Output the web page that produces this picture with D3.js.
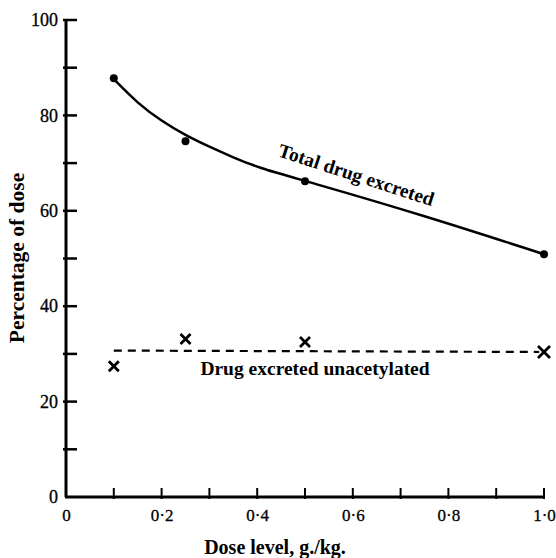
<!DOCTYPE html>
<html><head><meta charset="utf-8">
<script src="https://cdn.jsdelivr.net/npm/d3@7"></script>
<style>body{margin:0;background:#fff}svg{display:block}svg text{font-family:"Liberation Serif","DejaVu Serif",serif}</style>
</head><body>
<svg id="c" width="556" height="558"></svg>
<script>
// Data
const doses = [0.1, 0.25, 0.5, 1.0];
const totalExcreted = [87.8, 74.6, 66.2, 50.9];
const unacetylated = [27.4, 33.1, 32.5, 30.4];
// hand-drawn smooth curve through the total points
const totalCurveX = [0.1, 0.15, 0.2, 0.25, 0.3, 0.35, 0.4, 0.5, 0.75, 1.0];
const totalCurveY = [87.6, 82.5, 78.8, 75.8, 73.4, 71.2, 69.1, 66.3, 59.0, 50.9];
// dashed line (roughly constant level)
const dashX = [0.1, 0.99];
const dashY = [30.7, 30.4];
const yTicks = [0, 20, 40, 60, 80, 100];
const yMinor = [10, 30, 50, 70, 90];
const xTicks = [0, 0.2, 0.4, 0.6, 0.8, 1.0];
const xTickLabels = ["0", "0·2", "0·4", "0·6", "0·8", "1·0"];
const xMinor = [0.1, 0.3, 0.5, 0.7, 0.9];

const svg = d3.select("#c");
const x = d3.scaleLinear().domain([0, 1]).range([66, 544]);
const y = d3.scaleLinear().domain([0, 100]).range([497, 20]);
const font = "Liberation Serif, DejaVu Serif, serif";

// axes
const yAxis = d3.axisLeft(y).tickValues(yTicks).tickSize(0).tickPadding(8).tickFormat(d3.format("d"));
const gy = svg.append("g").attr("transform", "translate(66,0)").call(yAxis)
  .attr("font-family", font).attr("font-size", 18);
gy.select(".domain").remove();
gy.selectAll("text").attr("fill", "#000").style("font-family", font).attr("stroke", "#000").attr("stroke-width", 0.3);

const xAxis = d3.axisBottom(x).tickValues(xTicks).tickSize(0).tickPadding(12).tickFormat((d, i) => xTickLabels[i]);
const gx = svg.append("g").attr("transform", "translate(0,497)").call(xAxis)
  .attr("font-family", font).attr("font-size", 17);
gx.select(".domain").remove();
gx.selectAll("text").attr("fill", "#000").style("font-family", font).attr("stroke", "#000").attr("stroke-width", 0.3);

// axis lines
svg.append("line").attr("x1", 66).attr("x2", 66).attr("y1", y(100)).attr("y2", y(0))
  .attr("stroke", "#000").attr("stroke-width", 3);
svg.append("line").attr("x1", 65).attr("x2", x(1)).attr("y1", y(0)).attr("y2", y(0))
  .attr("stroke", "#000").attr("stroke-width", 3);

// y ticks (inward)
svg.append("g").selectAll("line").data(yTicks.concat(yMinor).filter(d => d > 0)).join("line")
  .attr("x1", 63).attr("x2", 77).attr("y1", d => y(d)).attr("y2", d => y(d))
  .attr("stroke", "#000").attr("stroke-width", 2.5);
// x ticks (upward)
svg.append("g").selectAll("line").data(xTicks.concat(xMinor).filter(d => d > 0)).join("line")
  .attr("x1", d => x(d)).attr("x2", d => x(d)).attr("y1", y(0) + 2).attr("y2", y(0) - 9)
  .attr("stroke", "#000").attr("stroke-width", 2);

// total curve
const curvePts = totalCurveX.map((d, i) => [d, totalCurveY[i]]);
svg.append("path").datum(curvePts)
  .attr("d", d3.line().x(d => x(d[0])).y(d => y(d[1])).curve(d3.curveBasis))
  .attr("fill", "none").attr("stroke", "#000").attr("stroke-width", 2.5);
svg.append("g").selectAll("circle").data(doses.map((d, i) => [d, totalExcreted[i]])).join("circle")
  .attr("cx", d => x(d[0])).attr("cy", d => y(d[1])).attr("r", 4).attr("fill", "#000");

// dashed line
svg.append("path").datum(dashX.map((d, i) => [d, dashY[i]]))
  .attr("d", d3.line().x(d => x(d[0])).y(d => y(d[1])))
  .attr("fill", "none").attr("stroke", "#000").attr("stroke-width", 2.2)
  .attr("stroke-dasharray", "8,6");

// crosses
const cs = [5, 5, 5, 6];
const crosses = svg.append("g").selectAll("g").data(doses.map((d, i) => [d, unacetylated[i], cs[i]])).join("g")
  .attr("transform", d => `translate(${x(d[0])},${y(d[1])})`);
crosses.append("path").attr("d", d => `M${-d[2]},${-d[2]}L${d[2]},${d[2]}M${-d[2]},${d[2]}L${d[2]},${-d[2]}`)
  .attr("stroke", "#000").attr("stroke-width", 2.8).attr("fill", "none");

// labels
svg.append("text").attr("transform", "translate(277,156) rotate(18)")
  .attr("font-family", font).attr("font-weight", "bold").attr("font-size", 19.5)
  .text("Total drug excreted");
svg.append("text").attr("x", 315).attr("y", 375).attr("text-anchor", "middle")
  .attr("font-family", font).attr("font-weight", "bold").attr("font-size", 19.5)
  .text("Drug excreted unacetylated");

// axis titles
svg.append("text").attr("transform", "translate(24,258) rotate(-90)").attr("text-anchor", "middle")
  .attr("font-family", font).attr("font-weight", "bold").attr("font-size", 21.5)
  .text("Percentage of dose");
svg.append("text").attr("x", 275).attr("y", 554).attr("text-anchor", "middle")
  .attr("font-family", font).attr("font-weight", "bold").attr("font-size", 20)
  .text("Dose level, g./kg.");
</script>
</body></html>
